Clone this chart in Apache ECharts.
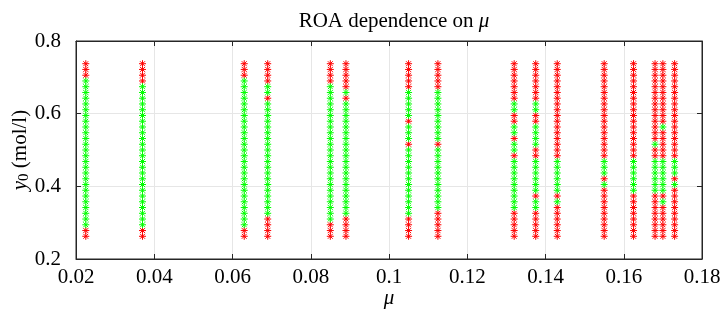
<!DOCTYPE html>
<html>
<head>
<meta charset="utf-8">
<script src="https://cdn.jsdelivr.net/npm/echarts@6/dist/echarts.min.js"></script>
<style>html,body{margin:0;padding:0;background:#fff}#c{width:723px;height:312px}</style>
</head>
<body>
<div id="c"></div>
<script>
// mu values of each column of initial conditions
const mu = [0.0225, 0.037, 0.063, 0.069, 0.085, 0.089, 0.105, 0.1125, 0.132, 0.1375, 0.143, 0.155, 0.1625, 0.168, 0.170, 0.173];
// y0 values, top to bottom
const y0 = [0.7375, 0.7217, 0.7058, 0.6900, 0.6742, 0.6583, 0.6425, 0.6267, 0.6108, 0.5950, 0.5792,
            0.5633, 0.5475, 0.5317, 0.5158, 0.5000, 0.4842, 0.4683, 0.4525, 0.4367, 0.4208,
            0.4050, 0.3892, 0.3733, 0.3575, 0.3417, 0.3258, 0.3100, 0.2942, 0.2783, 0.2625];
// outcome per column, run-length coded top to bottom: R = outside ROA (red), G = inside ROA (green)
const outcome = [
  "R3 G26 R2",
  "R4 G25 R2",
  "R3 G26 R2",
  "R4 G2 R1 G20 R4",
  "R4 G24 R3",
  "R5 G1 R1 G20 R4",
  "R5 G5 R1 G3 R1 G12 R4",
  "R5 G9 R1 G11 R5",
  "R7 G2 R2 G2 R1 G2 R1 G9 R5",
  "R7 G2 R2 G4 R2 G6 R1 G2 R5",
  "R17 G6 R1 G1 R6",
  "R17 G3 R1 G1 R9",
  "R17 G6 R8",
  "R14 G1 R2 G6 R8",
  "R11 G1 R5 G6 R1 G1 R6",
  "R17 G3 R1 G1 R9"
];
const xTicks = {min: 0.02, max: 0.18, step: 0.02};
const yTicks = {min: 0.2, max: 0.8, step: 0.2};

const red = [], green = [];
outcome.forEach((code, ci) => {
  let k = 0;
  code.split(' ').forEach(run => {
    const c = run[0], n = parseInt(run.slice(1), 10);
    for (let j = 0; j < n; j++, k++) {
      (c === 'R' ? red : green).push([mu[ci], y0[k]]);
    }
  });
});

const SERIF = '"Liberation Serif", "DejaVu Serif", serif';
const star = 'path://M5,0L5,10M0,5L10,5M1.5,1.5L8.5,8.5M1.5,8.5L8.5,1.5';
const AX = '#262626';

const chart = echarts.init(document.getElementById('c'), null, {renderer: 'canvas'});
chart.setOption({
  animation: false,
  backgroundColor: '#fff',
  title: {
    text: 'ROA dependence on {i|μ}',
    left: 389, top: 6, textAlign: 'center',
    textStyle: {fontFamily: SERIF, fontSize: 21, fontWeight: 'normal', color: '#000',
      rich: {i: {fontFamily: SERIF, fontSize: 21, fontStyle: 'italic', color: '#000'}}}
  },
  grid: {left: 76, right: 21, top: 41, bottom: 53, show: true, borderColor: AX, borderWidth: 1,
         containLabel: false, outerBoundsMode: 'none'},
  xAxis: [{
    type: 'value', min: xTicks.min, max: xTicks.max, interval: xTicks.step,
    name: 'μ', nameLocation: 'middle', nameGap: 29, nameMoveOverlap: false,
    nameTextStyle: {fontFamily: SERIF, fontSize: 21, fontStyle: 'italic', color: '#000'},
    axisLine: {show: true, lineStyle: {color: AX}},
    axisTick: {show: true, inside: true, length: 5, lineStyle: {color: AX}},
    axisLabel: {fontFamily: SERIF, fontSize: 21, color: '#000', margin: 8},
    splitLine: {show: true, lineStyle: {color: '#e6e6e6'}}
  }, {
    type: 'value', position: 'top', min: xTicks.min, max: xTicks.max, interval: xTicks.step,
    axisLine: {show: true, lineStyle: {color: AX}},
    axisTick: {show: true, inside: true, length: 5, lineStyle: {color: AX}},
    axisLabel: {show: false}, splitLine: {show: false}
  }],
  yAxis: [{
    type: 'value', min: yTicks.min, max: yTicks.max, interval: yTicks.step,
    name: '{i|y}{s|0} (mol/l)', nameLocation: 'middle', nameGap: 44, nameRotate: 90,
    nameMoveOverlap: false,
    nameTextStyle: {fontFamily: SERIF, fontSize: 21, color: '#000', lineHeight: 24,
      rich: {i: {fontFamily: SERIF, fontSize: 21, fontStyle: 'italic', color: '#000', lineHeight: 24},
             s: {fontFamily: SERIF, fontSize: 15, color: '#000', verticalAlign: 'bottom', lineHeight: 24}}},
    axisLine: {show: true, lineStyle: {color: AX}},
    axisTick: {show: true, inside: true, length: 5, lineStyle: {color: AX}},
    axisLabel: {fontFamily: SERIF, fontSize: 21, color: '#000', margin: 15},
    splitLine: {show: true, lineStyle: {color: '#e6e6e6'}}
  }, {
    type: 'value', position: 'right', min: yTicks.min, max: yTicks.max, interval: yTicks.step,
    axisLine: {show: true, lineStyle: {color: AX}},
    axisTick: {show: true, inside: true, length: 5, lineStyle: {color: AX}},
    axisLabel: {show: false}, splitLine: {show: false}
  }],
  series: [{
    type: 'scatter', data: red, symbol: star, symbolSize: 7,
    itemStyle: {color: 'none', borderColor: '#ff0000', borderWidth: 1, opacity: 1}
  }, {
    type: 'scatter', data: green, symbol: star, symbolSize: 7,
    itemStyle: {color: 'none', borderColor: '#00ff00', borderWidth: 1, opacity: 1}
  }]
});
</script>
</body>
</html>
